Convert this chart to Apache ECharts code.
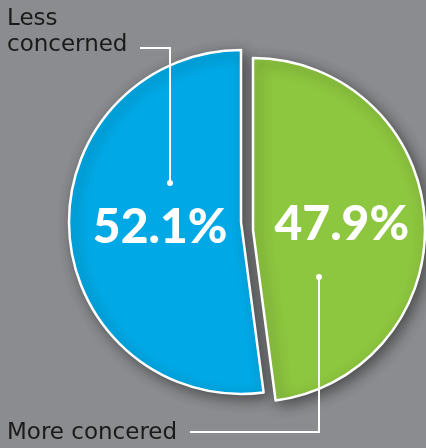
<!DOCTYPE html>
<html>
<head>
<meta charset="utf-8">
<script src="https://cdn.jsdelivr.net/npm/echarts@6/dist/echarts.min.js"></script>
<style>
html,body{margin:0;padding:0;background:#8b8c8f;}
#chart{width:426px;height:448px;}
</style>
</head>
<body>
<div id="chart"></div>
<script>
const categories = ['Less concerned', 'More concered'];
const values = [52.1, 47.9];
const colors = ['#00a9e6', '#8dc63f'];

const chart = echarts.init(document.getElementById('chart'), null, {renderer: 'canvas'});

function sliceSeries(i, center, clockwise) {
  return {
    type: 'pie',
    center: center,
    radius: 172,
    startAngle: 90,
    clockwise: clockwise,
    silent: true,
    animation: false,
    emphasis: {disabled: true},
    labelLine: {show: false},
    data: [
      {
        value: values[i],
        name: categories[i],
        itemStyle: {
          color: colors[i],
          borderColor: '#ffffff',
          borderWidth: 2.5,
          shadowBlur: 14,
          shadowColor: 'rgba(0,0,0,0.45)',
          shadowOffsetX: 4,
          shadowOffsetY: 4
        },
        label: {
          show: true,
          position: 'inside',
          formatter: '{c}%',
          color: '#ffffff',
          fontFamily: 'Lato',
          fontWeight: 900,
          fontSize: 48,
          padding: i === 0 ? [6, 0, 0, 16] : [14, 0, 0, 0]
        }
      },
      {
        value: 100 - values[i],
        name: '',
        itemStyle: {color: 'rgba(0,0,0,0)', borderWidth: 0},
        label: {show: false}
      }
    ]
  };
}

const lineStyle = {stroke: '#ffffff', lineWidth: 2, fill: null};
const textFont = '23px "DejaVu Sans"';

chart.setOption({
  backgroundColor: '#8b8c8f',
  series: [
    sliceSeries(0, [241, 222], false),
    sliceSeries(1, [253, 230], true)
  ],
  graphic: [
    {type: 'polyline', shape: {points: [[140, 48], [170, 48], [170, 183]]}, style: lineStyle, z: 100},
    {type: 'circle', shape: {cx: 170, cy: 183, r: 3}, style: {fill: '#ffffff'}, z: 100},
    {type: 'polyline', shape: {points: [[190, 432], [319, 432], [319, 277]]}, style: lineStyle, z: 100},
    {type: 'circle', shape: {cx: 319, cy: 277, r: 3}, style: {fill: '#ffffff'}, z: 100},
    {type: 'text', left: 7, top: 6, z: 100,
      style: {text: 'Less\nconcerned', font: textFont, fill: '#1a1a1a', lineHeight: 26}},
    {type: 'text', left: 7, top: 422, z: 100,
      style: {text: categories[1], font: textFont, fill: '#1a1a1a'}}
  ]
});
</script>
</body>
</html>
